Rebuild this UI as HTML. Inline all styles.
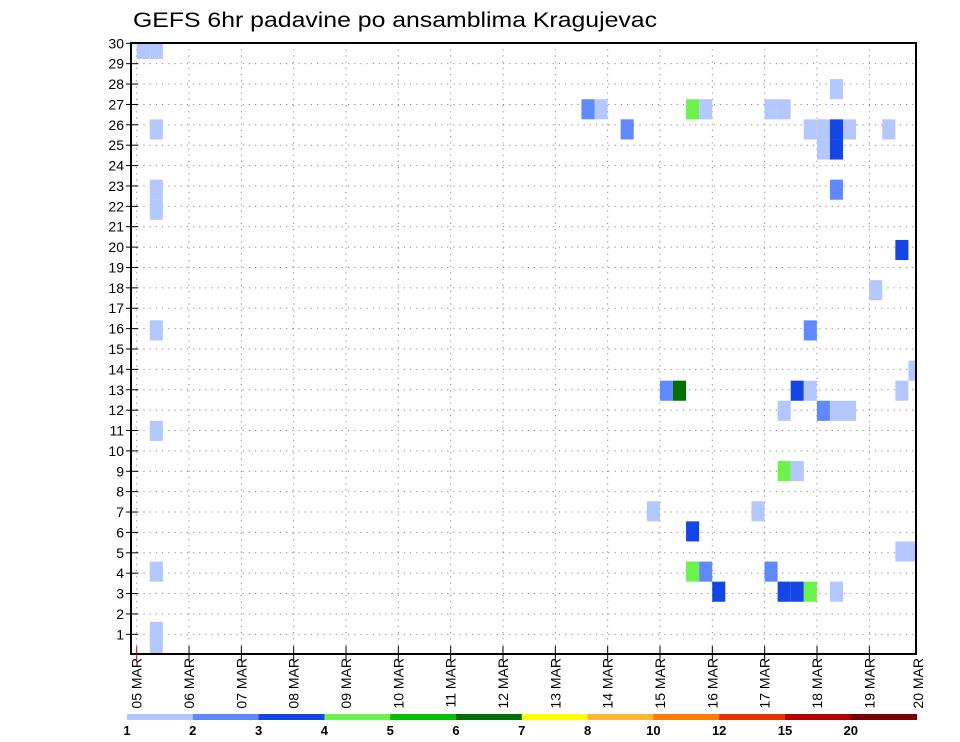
<!DOCTYPE html>
<html><head><meta charset="utf-8"><style>
html,body{margin:0;padding:0;background:#fff;}
svg{display:block;font-family:"Liberation Sans",sans-serif;}
</style></head><body>
<svg id="chart" width="960" height="742" viewBox="0 0 960 742" xmlns="http://www.w3.org/2000/svg">
<rect x="0" y="0" width="960" height="742" fill="#fff"/>
<text x="133" y="27" font-size="21" textLength="524" lengthAdjust="spacingAndGlyphs" fill="#000">GEFS 6hr padavine po ansamblima Kragujevac</text>
<g id="grid"></g>
<g id="cells"></g>
<g id="axes"></g>
<g id="cbar"></g>
</svg>
<script>
// ---- data ----
const dayLabels = ["05 MAR","06 MAR","07 MAR","08 MAR","09 MAR","10 MAR","11 MAR","12 MAR","13 MAR","14 MAR","15 MAR","16 MAR","17 MAR","18 MAR","19 MAR","20 MAR"];
const memberTicks = [1,2,3,4,5,6,7,8,9,10,11,12,13,14,15,16,17,18,19,20,21,22,23,24,25,26,27,28,29,30];
// step index (6h steps from 05 MAR 00z), member row, precipitation (mm)
const cellStep = [0,1,1,1,1,1,1,1,1,1, 34,35,42,43,48,49, 53, 37,51,52,53,54,57, 52,53, 53, 58, 56, 51, 59, 40,41,50,51,58, 49,52,53,54, 49,50, 39,47, 42, 58,59, 42,43,48, 44,49,50,51,53];
const cellRow  = [30,30,26,23,22,16,11,4,1,0, 27,27,27,27,27,27, 28, 26,26,26,26,26,26, 25,25, 23, 20, 18, 16, 14, 13,13,13,13,13, 12,12,12,12, 9,9, 7,7, 6, 5,5, 4,4,4, 3,3,3,3,3];
const cellVal  = [1.5,1.5,1.5,1.5,1.5,1.5,1.5,1.5,1.5,1.5, 2.5,1.5,4.5,1.5,1.5,1.5, 1.5, 2.5,1.5,1.5,3.5,1.5,1.5, 1.5,3.5, 2.5, 3.5, 1.5, 2.5, 1.5, 2.5,6.5,3.5,1.5,1.5, 1.5,2.5,1.5,1.5, 4.5,1.5, 1.5,1.5, 3.5, 1.5,1.5, 4.5,2.5,2.5, 3.5,3.5,3.5,4.5,1.5];
const levels = [1,2,3,4,5,6,7,8,10,12,15,20];
const levelLabels = ["1","2","3","4","5","6","7","8","10","12","15","20"];
const levelColors = ["#b4c8ff","#6089ff","#1446e6","#6cf24c","#00c000","#007000","#ffff00","#ffb432","#ff7d00","#e63200","#b40000","#780000"];

// ---- geometry ----
const L=131,R=916,T=43,B=654;
const NS="http://www.w3.org/2000/svg";
function xDay(d){return 136.7+52.33*d;}
function xStep(k){return 136.7+13.08*k;}
function yRow(v){return 654.7-20.38*v;}
function yCell(v){return 652-20.1*v;}
function colorFor(v){let c=null;for(let i=0;i<levels.length;i++){if(v>=levels[i])c=levelColors[i];}return c;}
function mk(tag,attrs,parent){const e=document.createElementNS(NS,tag);for(const k in attrs)e.setAttribute(k,attrs[k]);parent.appendChild(e);return e;}

const grid=document.getElementById('grid');
memberTicks.forEach(v=>{
  if(v>=30)return;
  const y=yRow(v);
  const ln=mk('line',{x1:L,x2:R,y1:y,y2:y,stroke:'#888','stroke-width':1,'stroke-dasharray':'1.2,5'},grid);
  
  
});
dayLabels.forEach((lab,i)=>{
  const x=xDay(i);
  if(x<=L+2||x>=R-1)return;
  const ln=mk('line',{x1:x,x2:x,y1:T,y2:B,stroke:'#888','stroke-width':1,'stroke-dasharray':'1.2,5'},grid);
  
  
});

const cells=document.getElementById('cells');
for(let i=0;i<cellStep.length;i++){
  const x0=Math.max(L,xStep(cellStep[i])), x1=Math.min(R,xStep(cellStep[i]+1));
  const yc=yCell(cellRow[i]);
  const y0=Math.max(T,yc-10.05), y1=Math.min(B,yc+10.05);
  const r=mk('rect',{x:x0,y:y0,width:x1-x0,height:y1-y0,fill:colorFor(cellVal[i])},cells);
  
  
}

const axes=document.getElementById('axes');
const fr=mk('rect',{x:L,y:T,width:R-L,height:B-T,fill:'none',stroke:'#000','stroke-width':2},axes);


memberTicks.forEach(v=>{
  const y=yRow(v);
  const t=mk('line',{x1:126,x2:138,y1:y,y2:y,stroke:'#000','stroke-width':1},axes);
  
  
  const tx=mk('text',{x:124,y:y+5,'font-size':14,'text-anchor':'end',fill:'#000'},axes);
  tx.textContent=String(v);
  
  
});
dayLabels.forEach((lab,i)=>{
  const x=xDay(i);
  if(x<R+1){
    const t=mk('line',{x1:x,x2:x,y1:B-8,y2:B+6,stroke:i===0?'#c00':'#000','stroke-width':1},axes);
    
    
  }
  const lx=Math.min(x,918)+5;
  const tx=mk('text',{x:0,y:0,'font-size':14,'text-anchor':'end',fill:'#000',transform:'translate('+lx+',658) rotate(-90)'},axes);
  tx.textContent=lab;
  
  
});

const cbar=document.getElementById('cbar');
const cbL=127,cbW=65.8;
levels.forEach((lv,i)=>{
  const r=mk('rect',{x:cbL+i*cbW,y:714,width:cbW+0.5,height:6,fill:levelColors[i]},cbar);
  
  
  const tx=mk('text',{x:cbL+i*cbW,y:735,'font-size':13,'font-weight':'bold','text-anchor':'middle',fill:'#000'},cbar);
  tx.textContent=levelLabels[i];
  
  
});
</script>
</body></html>
